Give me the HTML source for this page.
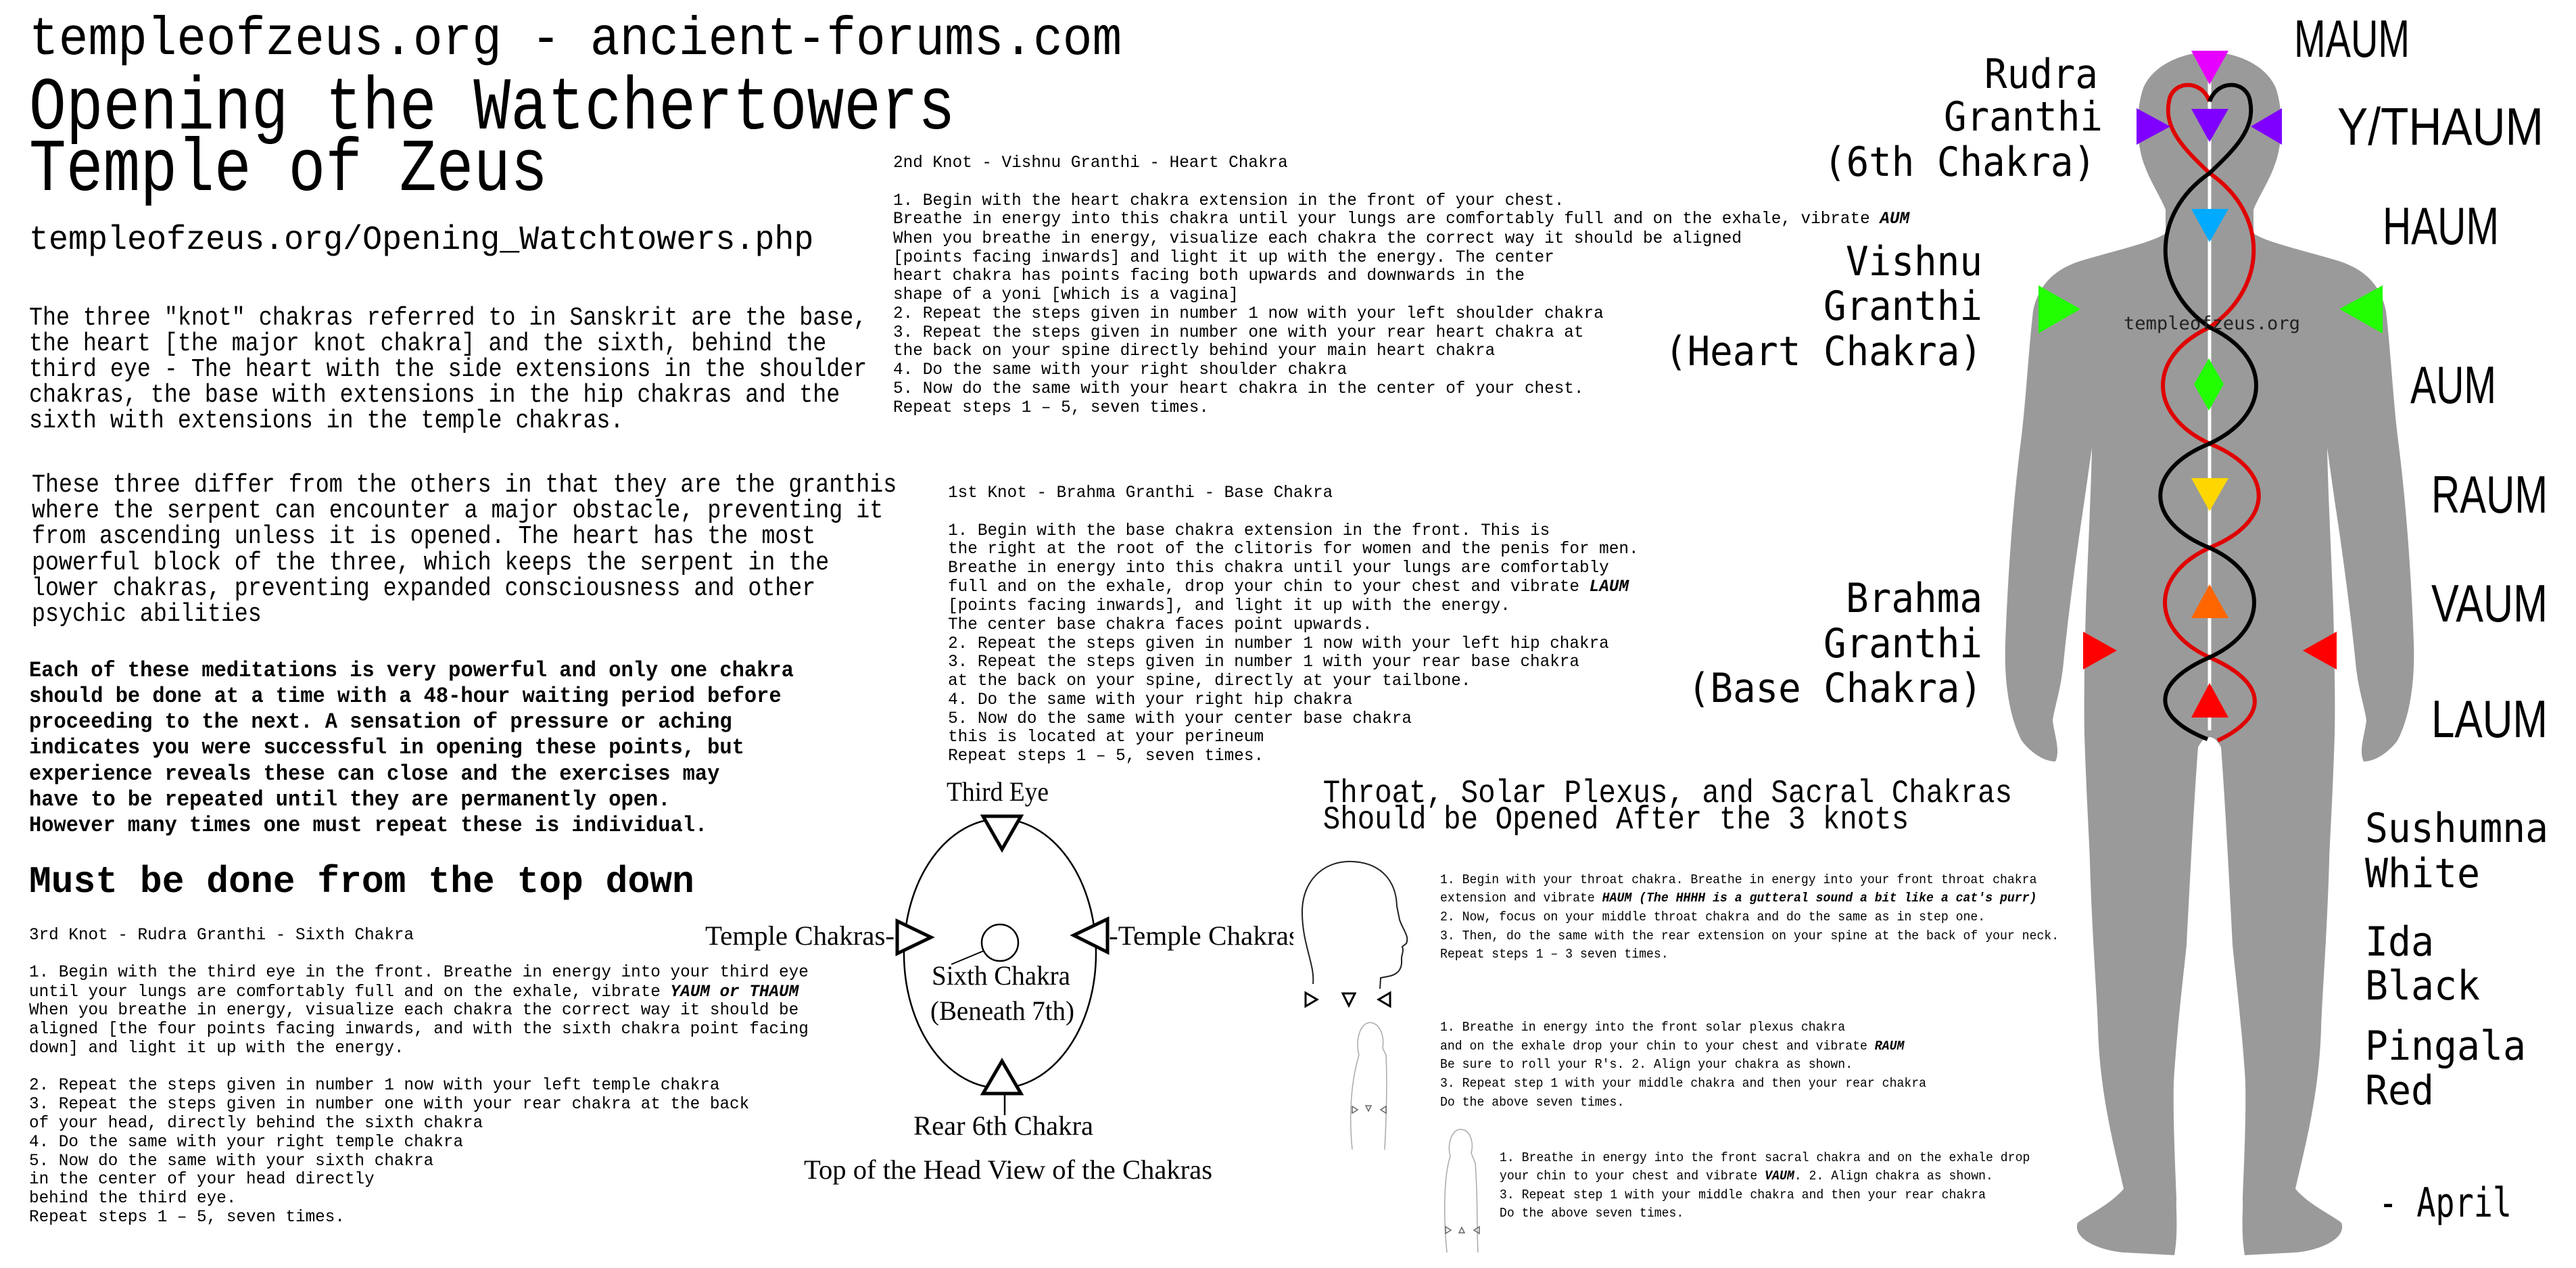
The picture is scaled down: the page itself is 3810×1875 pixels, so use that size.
<!DOCTYPE html>
<html><head><meta charset="utf-8"><style>
html,body{margin:0;padding:0;background:#fff;}
svg{display:block;}
text{fill:#000;}
.m{font-family:"Liberation Mono",monospace;}
.d{font-family:"DejaVu Sans Mono","Liberation Mono",monospace;}
.s{font-family:"Liberation Sans",sans-serif;}
.r{font-family:"Liberation Serif",serif;}
.i{font-style:italic;font-weight:bold;}
</style></head><body>
<svg width="3810" height="1875" viewBox="0 0 3810 1875" xmlns="http://www.w3.org/2000/svg">
<rect width="3810" height="1875" fill="#fff"/>

<!-- BODY -->
<path fill="#9a9a9a" d="M3268,77 C3230,77 3185,95 3170,130 C3158,165 3160,215 3172,245 C3180,268 3195,290 3203,310 L3203,345 C3185,358 3130,370 3080,385 C3040,397 3015,420 3007,460 C3000,520 2996,600 2988,660 C2978,740 2970,842 2966,950 C2964,1010 2972,1060 2990,1095 C3005,1115 3025,1126 3040,1126 C3048,1110 3038,1085 3036,1065 C3040,1040 3048,1020 3052,980 C3058,920 3068,840 3080,760 C3086,720 3090,690 3094,662 C3093,720 3088,820 3085,900 C3083,980 3082,1040 3083,1087 C3086,1180 3090,1240 3091,1273 C3094,1380 3102,1480 3103,1522 C3106,1620 3128,1700 3141,1758 C3120,1782 3090,1795 3073,1808 C3065,1830 3100,1848 3140,1852 L3216,1856 C3222,1820 3218,1790 3219,1771 C3216,1700 3213,1620 3216,1584 C3222,1500 3232,1420 3234,1397 C3240,1280 3246,1170 3251,1105 C3256,1095 3262,1090 3268,1090
C3274,1090 3280,1095 3285,1105 C3290,1170 3296,1280 3302,1397 C3304,1420 3314,1500 3320,1584 C3323,1620 3320,1700 3317,1771 C3318,1790 3314,1820 3320,1856 L3396,1852 C3436,1848 3471,1830 3463,1808 C3446,1795 3416,1782 3395,1758 C3408,1700 3430,1620 3433,1522 C3434,1480 3442,1380 3445,1273 C3446,1240 3450,1180 3453,1087 C3454,1040 3453,980 3451,900 C3448,820 3443,720 3442,662 C3446,690 3450,720 3456,760 C3468,840 3478,920 3484,980 C3488,1020 3496,1040 3500,1065 C3498,1085 3488,1110 3496,1126 C3511,1126 3531,1115 3546,1095 C3564,1060 3572,1010 3570,950 C3566,842 3558,740 3548,660 C3540,600 3536,520 3529,460 C3521,420 3496,397 3456,385 C3406,370 3351,358 3333,345 L3333,310 C3341,290 3356,268 3364,245 C3376,215 3378,165 3366,130 C3351,95 3306,77 3268,77 Z"/>

<!-- spine -->
<line x1="3268" y1="120" x2="3268" y2="1080" stroke="#fff" stroke-width="5"/>

<!-- channels -->
<g fill="none" stroke-width="6">
<path stroke="#e00000" d="M3268,150 C3255,115 3212,120 3208,150 C3200,190 3230,220 3268,256 C3355,316 3355,424 3268,484 C3176,527 3176,613 3268,656 C3365,695 3365,771 3268,810 C3180,850 3180,932 3268,972 C3355,1010 3355,1060 3280,1095"/>
<path stroke="#000" d="M3268,150 C3281,115 3324,120 3328,150 C3336,190 3306,220 3268,256 C3181,316 3181,424 3268,484 C3360,527 3360,613 3268,656 C3171,695 3171,771 3268,810 C3356,850 3356,932 3268,972 C3181,1010 3181,1060 3265,1093"/>
</g>

<!-- chakra triangles -->
<polygon fill="#e600ff" points="3241,75 3296,75 3268,125"/>
<polygon fill="#8000ff" points="3241,161 3296,161 3268,210"/>
<polygon fill="#8000ff" points="3160,160 3160,214 3210,187"/>
<polygon fill="#8000ff" points="3375,160 3375,214 3329,187"/>
<polygon fill="#00aaff" points="3241,309 3296,309 3268,358"/>
<polygon fill="#22ff00" points="3015,422 3015,493 3077,457"/>
<polygon fill="#22ff00" points="3524,422 3524,493 3460,457"/>
<polygon fill="#22ff00" points="3267,530 3289,568 3267,607 3245,568"/>
<polygon fill="#ffd700" points="3241,707 3296,707 3268,756"/>
<polygon fill="#ff6600" points="3241,914 3296,914 3268,864"/>
<polygon fill="#ff0000" points="3081,934 3081,990 3131,962"/>
<polygon fill="#ff0000" points="3456,934 3456,990 3406,962"/>
<polygon fill="#ff0000" points="3241,1061 3296,1061 3268,1010"/>

<text class="d" x="3141" y="487" font-size="27" style="fill:#222" textLength="261" lengthAdjust="spacingAndGlyphs">templeofzeus.org</text>

<!-- right labels -->
<g class="s" font-size="78">
<text x="3393" y="84" textLength="171" lengthAdjust="spacingAndGlyphs">MAUM</text>
<text x="3457" y="214" textLength="305" lengthAdjust="spacingAndGlyphs">Y/THAUM</text>
<text x="3524" y="361" textLength="172" lengthAdjust="spacingAndGlyphs">HAUM</text>
<text x="3565" y="596" textLength="127" lengthAdjust="spacingAndGlyphs">AUM</text>
<text x="3596" y="758" textLength="172" lengthAdjust="spacingAndGlyphs">RAUM</text>
<text x="3596" y="919" textLength="172" lengthAdjust="spacingAndGlyphs">VAUM</text>
<text x="3596" y="1090" textLength="172" lengthAdjust="spacingAndGlyphs">LAUM</text>
</g>
<g class="d" font-size="60">
<text x="3498" y="1245" textLength="271" lengthAdjust="spacingAndGlyphs">Sushumna</text>
<text x="3498" y="1312" textLength="170" lengthAdjust="spacingAndGlyphs">White</text>
<text x="3498" y="1413" textLength="102" lengthAdjust="spacingAndGlyphs">Ida</text>
<text x="3498" y="1478" textLength="170" lengthAdjust="spacingAndGlyphs">Black</text>
<text x="3498" y="1567" textLength="238" lengthAdjust="spacingAndGlyphs">Pingala</text>
<text x="3498" y="1633" textLength="102" lengthAdjust="spacingAndGlyphs">Red</text>
<text x="3518" y="1799" textLength="197" lengthAdjust="spacingAndGlyphs" xml:space="preserve">- April</text>
</g>
<g class="d" font-size="60">
<text x="2935" y="130" textLength="168" lengthAdjust="spacingAndGlyphs">Rudra</text>
<text x="2875" y="193" textLength="235" lengthAdjust="spacingAndGlyphs">Granthi</text>
<text x="2697" y="260" textLength="403" lengthAdjust="spacingAndGlyphs">(6th Chakra)</text>
<text x="2730" y="407" textLength="202" lengthAdjust="spacingAndGlyphs">Vishnu</text>
<text x="2697" y="473" textLength="235" lengthAdjust="spacingAndGlyphs">Granthi</text>
<text x="2462" y="540" textLength="470" lengthAdjust="spacingAndGlyphs">(Heart Chakra)</text>
<text x="2730" y="905" textLength="202" lengthAdjust="spacingAndGlyphs">Brahma</text>
<text x="2697" y="972" textLength="235" lengthAdjust="spacingAndGlyphs">Granthi</text>
<text x="2496" y="1038" textLength="436" lengthAdjust="spacingAndGlyphs">(Base Chakra)</text>
</g>

<!-- Headers -->
<g transform="scale(0.91,1)"><text class="m" x="47.3" y="80" font-size="80">templeofzeus.org - ancient-forums.com</text></g>
<g transform="scale(0.83,1)" class="m" font-size="110">
<text x="51.8" y="190">Opening the Watchertowers</text>
<text x="51.8" y="281">Temple of Zeus</text>
</g>
<g transform="scale(0.967,1)"><text class="m" x="44.5" y="368" font-size="50">templeofzeus.org/Opening_Watchtowers.php</text></g>

<g transform="scale(0.877,1)" class="m" font-size="38">
<text x="49" y="480">The three "knot" chakras referred to in Sanskrit are the base,</text>
<text x="49" y="518">the heart [the major knot chakra] and the sixth, behind the</text>
<text x="49" y="556">third eye - The heart with the side extensions in the shoulder</text>
<text x="49" y="594">chakras, the base with extensions in the hip chakras and the</text>
<text x="49" y="632">sixth with extensions in the temple chakras.</text>
<text x="53.6" y="727">These three differ from the others in that they are the granthis</text>
<text x="53.6" y="765">where the serpent can encounter a major obstacle, preventing it</text>
<text x="53.6" y="803">from ascending unless it is opened. The heart has the most</text>
<text x="53.6" y="842">powerful block of the three, which keeps the serpent in the</text>
<text x="53.6" y="880">lower chakras, preventing expanded consciousness and other</text>
<text x="53.6" y="918">psychic abilities</text>
</g>
<g transform="scale(0.95,1)" class="m" font-size="32" font-weight="bold">
<text x="45.3" y="1000">Each of these meditations is very powerful and only one chakra</text>
<text x="45.3" y="1038">should be done at a time with a 48-hour waiting period before</text>
<text x="45.3" y="1076">proceeding to the next. A sensation of pressure or aching</text>
<text x="45.3" y="1114">indicates you were successful in opening these points, but</text>
<text x="45.3" y="1153">experience reveals these can close and the exercises may</text>
<text x="45.3" y="1191">have to be repeated until they are permanently open.</text>
<text x="45.3" y="1229">However many times one must repeat these is individual.</text>
</g>
<g transform="scale(0.976,1)"><text class="m" x="44" y="1319" font-size="56" font-weight="bold">Must be done from the top down</text></g>

<g transform="scale(0.973,1)" class="m" font-size="25">
<text x="44.2" y="1389">3rd Knot - Rudra Granthi - Sixth Chakra</text>
<text x="44.2" y="1444">1. Begin with the third eye in the front. Breathe in energy into your third eye</text>
<text x="44.2" y="1473">until your lungs are comfortably full and on the exhale, vibrate <tspan class="i">YAUM or THAUM</tspan></text>
<text x="44.2" y="1500">When you breathe in energy, visualize each chakra the correct way it should be</text>
<text x="44.2" y="1528">aligned [the four points facing inwards, and with the sixth chakra point facing</text>
<text x="44.2" y="1556">down] and light it up with the energy.</text>
<text x="44.2" y="1611">2. Repeat the steps given in number 1 now with your left temple chakra</text>
<text x="44.2" y="1639">3. Repeat the steps given in number one with your rear chakra at the back</text>
<text x="44.2" y="1667">of your head, directly behind the sixth chakra</text>
<text x="44.2" y="1695">4. Do the same with your right temple chakra</text>
<text x="44.2" y="1723">5. Now do the same with your sixth chakra</text>
<text x="44.2" y="1750">in the center of your head directly</text>
<text x="44.2" y="1778">behind the third eye.</text>
<text x="44.2" y="1806">Repeat steps 1 – 5, seven times.</text>

<text x="1357.7" y="247">2nd Knot - Vishnu Granthi - Heart Chakra</text>
<text x="1357.7" y="303">1. Begin with the heart chakra extension in the front of your chest.</text>
<text x="1357.7" y="330">Breathe in energy into this chakra until your lungs are comfortably full and on the exhale, vibrate <tspan class="i">AUM</tspan></text>
<text x="1357.7" y="359">When you breathe in energy, visualize each chakra the correct way it should be aligned</text>
<text x="1357.7" y="387">[points facing inwards] and light it up with the energy. The center</text>
<text x="1357.7" y="414">heart chakra has points facing  both upwards and downwards in the</text>
<text x="1357.7" y="442">shape of a yoni [which is a vagina]</text>
<text x="1357.7" y="470">2. Repeat the steps given in number 1 now with your left shoulder chakra</text>
<text x="1357.7" y="498">3. Repeat the steps given in number one with your rear heart chakra at</text>
<text x="1357.7" y="525">the back on your spine directly behind your main heart chakra</text>
<text x="1357.7" y="553">4. Do the same with your right shoulder chakra</text>
<text x="1357.7" y="581">5. Now do the same with your heart chakra in the center of your chest.</text>
<text x="1357.7" y="609">Repeat steps 1 – 5, seven times.</text>

<text x="1441" y="735">1st Knot - Brahma Granthi - Base Chakra</text>
<text x="1441" y="791">1. Begin with the base chakra extension in the front. This is</text>
<text x="1441" y="818">the right at the root of the clitoris for women and the penis for men.</text>
<text x="1441" y="846">Breathe in energy into this chakra until your lungs are comfortably</text>
<text x="1441" y="874">full and on the exhale, drop your chin to your chest and vibrate <tspan class="i">LAUM</tspan></text>
<text x="1441" y="902">[points facing inwards], and light it up with the energy.</text>
<text x="1441" y="930">The center base chakra faces point upwards.</text>
<text x="1441" y="958">2. Repeat the steps given in number 1 now with your left hip chakra</text>
<text x="1441" y="985">3. Repeat the steps given in number 1 with your rear base chakra</text>
<text x="1441" y="1013">at the back on your spine, directly at your tailbone.</text>
<text x="1441" y="1041">4. Do the same with your right hip chakra</text>
<text x="1441" y="1069">5. Now do the same with your center base chakra</text>
<text x="1441" y="1096">this is located at your perineum</text>
<text x="1441" y="1124">Repeat steps 1 – 5, seven times.</text>
</g>

<!-- Top of head diagram -->
<g fill="none" stroke="#000">
<ellipse cx="1479" cy="1410" rx="142" ry="199" stroke-width="2.5"/>
<circle cx="1479" cy="1394" r="27" stroke-width="2.5"/>
<line x1="1407" y1="1426" x2="1455" y2="1406" stroke-width="2"/>
<line x1="1486" y1="1619" x2="1486" y2="1649" stroke-width="2.5"/>
</g>
<g fill="#fff" stroke="#000" stroke-width="5" stroke-linejoin="miter">
<polygon points="1454,1207 1510,1207 1482,1256"/>
<polygon points="1454,1617 1510,1617 1482,1569"/>
<polygon points="1327,1362 1327,1410 1377,1386"/>
<polygon points="1638,1359 1638,1408 1588,1383"/>
</g>
<g class="r" font-size="40">
<text x="1400" y="1184" textLength="151" lengthAdjust="spacingAndGlyphs">Third Eye</text>
<text x="1043" y="1397" textLength="280" lengthAdjust="spacingAndGlyphs">Temple Chakras-</text>
<text x="1640" y="1397" textLength="282" lengthAdjust="spacingAndGlyphs">-Temple Chakras</text>
<text x="1378" y="1456" textLength="205" lengthAdjust="spacingAndGlyphs">Sixth Chakra</text>
<text x="1376" y="1508" textLength="213" lengthAdjust="spacingAndGlyphs">(Beneath 7th)</text>
<text x="1351" y="1678" textLength="266" lengthAdjust="spacingAndGlyphs">Rear 6th Chakra</text>
<text x="1189" y="1743" textLength="604" lengthAdjust="spacingAndGlyphs">Top of the Head View of the Chakras</text>
</g>
<rect x="1913" y="1350" width="12" height="60" fill="#fff"/>

<!-- Throat etc -->
<g transform="scale(0.885,1)" class="m" font-size="48">
<text x="2211" y="1186">Throat, Solar Plexus, and Sacral Chakras</text>
<text x="2211" y="1225">Should be Opened After the 3 knots</text>
</g>
<g transform="scale(0.956,1)" class="m" font-size="19">
<text x="2228" y="1306">1. Begin with your throat chakra. Breathe in energy into your front throat chakra</text>
<text x="2228" y="1333">extension and vibrate <tspan class="i">HAUM (The HHHH is a gutteral sound a bit like a cat's purr)</tspan></text>
<text x="2228" y="1361">2. Now, focus on your middle throat chakra and do the same as in step one.</text>
<text x="2228" y="1389">3. Then, do the same with the rear extension on your spine at the back of your neck.</text>
<text x="2228" y="1416">Repeat steps 1 – 3 seven times.</text>
<text x="2228" y="1524">1. Breathe in energy into the front solar plexus chakra</text>
<text x="2228" y="1552">and on the exhale drop your chin to your chest and vibrate <tspan class="i">RAUM</tspan></text>
<text x="2228" y="1579">Be sure to roll your R's. 2. Align your chakra as shown.</text>
<text x="2228" y="1607">3. Repeat step 1 with your middle chakra and then your rear chakra</text>
<text x="2228" y="1635">Do the above seven times.</text>
<text x="2320" y="1717">1. Breathe in energy into the front sacral chakra and on the exhale drop</text>
<text x="2320" y="1744">your chin to your chest and vibrate <tspan class="i">VAUM</tspan>. 2. Align chakra as shown.</text>
<text x="2320" y="1772">3. Repeat step 1 with your middle chakra and then your rear chakra</text>
<text x="2320" y="1799">Do the above seven times.</text>
</g>

<!-- head profile -->
<path fill="none" stroke="#222" stroke-width="2" d="M1942,1455 C1945,1425 1925,1395 1926,1345 C1928,1295 1965,1272 2000,1274 C2045,1276 2065,1305 2066,1340 L2070,1360 C2075,1375 2085,1385 2080,1395 L2074,1400 C2077,1408 2072,1412 2073,1420 C2074,1435 2065,1442 2052,1444 L2042,1446 L2041,1462"/>
<g fill="#fff" stroke="#000" stroke-width="3">
<polygon points="1931,1468 1931,1488 1948,1478"/>
<polygon points="1986,1469 2004,1469 1995,1487"/>
<polygon points="2056,1468 2056,1488 2039,1478"/>
</g>
<!-- small body figures -->
<g fill="none" stroke="#aaa" stroke-width="1.5">
<path d="M2000,1700 C1995,1650 1998,1600 2010,1560 C2005,1540 2010,1515 2025,1512 C2040,1512 2048,1530 2045,1550 L2050,1560 C2052,1600 2050,1660 2048,1700"/>
<path d="M2140,1852 C2135,1800 2135,1740 2145,1710 C2140,1690 2148,1670 2160,1670 C2175,1670 2180,1690 2176,1705 L2182,1720 C2186,1770 2184,1820 2186,1852"/>
</g>
<g fill="none" stroke="#666" stroke-width="1.5">
<polygon points="2000,1636 2000,1646 2008,1641"/>
<polygon points="2020,1635 2028,1635 2024,1643"/>
<polygon points="2050,1636 2050,1646 2042,1641"/>
<polygon points="2138,1814 2138,1824 2146,1819"/>
<polygon points="2158,1823 2166,1823 2162,1815"/>
<polygon points="2188,1814 2188,1824 2180,1819"/>
</g>
</svg>
</body></html>
